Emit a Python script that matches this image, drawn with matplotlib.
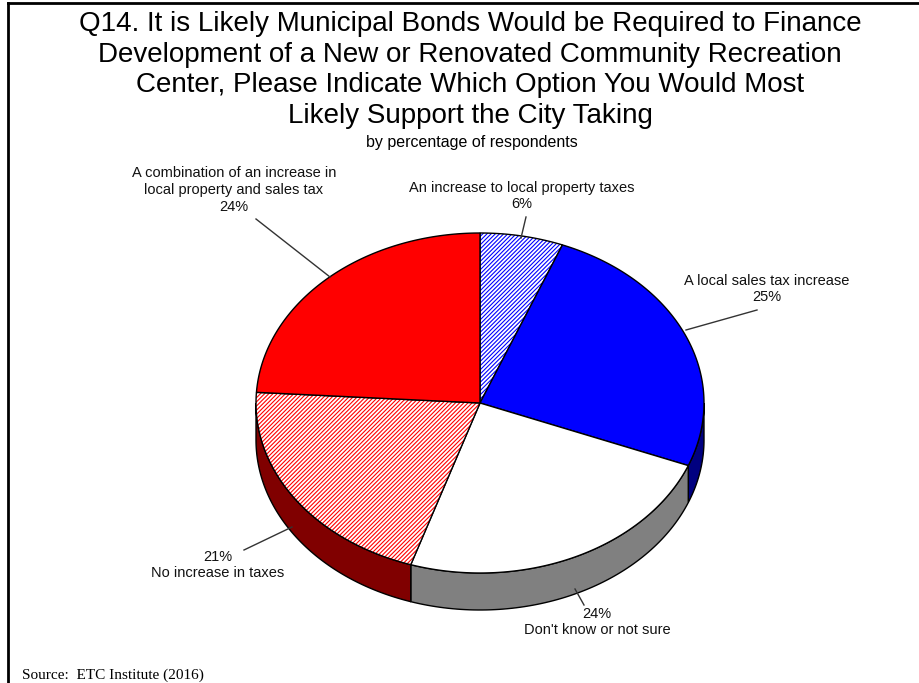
import numpy as np
import matplotlib.pyplot as plt
from matplotlib.patches import Polygon

plt.rcParams['font.family'] = ['Liberation Sans', 'DejaVu Sans']
plt.rcParams['hatch.linewidth'] = 0.8

# slices, clockwise from 12 o'clock
names = ["An increase to local property taxes",
         "A local sales tax increase",
         "Don't know or not sure",
         "No increase in taxes",
         "A combination of an increase in\nlocal property and sales tax"]
percents = [6, 25, 24, 21, 24]
top_colors = ["white", "#0000ff", "white", "white", "#ff0000"]
hatch_colors = ["#0000ff", None, None, "#ff0000", None]
side_colors = ["#000080", "#000080", "#808080", "#800000", "#800000"]

# label text anchor, percent above/below the name, leader line
label_pos = [(522, 196), (767, 289), (597, 622), (218, 565), (234, 190)]
pct_first = [False, False, True, True, False]
leaders = [((526, 217), (521, 238)), ((757, 310), (686, 330)),
           ((584, 605), (575, 589)), ((244, 550), (292, 527)),
           ((256, 219), (330, 277))]

cx, cy, rx, ry, depth = 480, 403, 224, 170, 37

fig = plt.figure(figsize=(9.19, 6.83), dpi=100)
ax = fig.add_axes([0, 0, 1, 1])
ax.set_xlim(0, 919)
ax.set_ylim(683, 0)
ax.axis('off')


def rim(t):
    return cx + rx * np.cos(t), cy - ry * np.sin(t)


bounds = np.concatenate([[0], np.cumsum(percents)]) / 100.0 * 360.0
theta = [(np.radians(90 - bounds[i]), np.radians(90 - bounds[i + 1]))
         for i in range(len(percents))]

# side walls on the front half
for (t0, t1), sc in zip(theta, side_colors):
    # t0 > t1 since we go clockwise; front half is sin(t) <= 0
    lo, hi = t1, t0
    segs = []
    for shift in (0, 2 * np.pi, -2 * np.pi):
        a, b = max(lo + shift, -np.pi), min(hi + shift, 0)
        if b > a:
            segs.append((a, b))
    for a, b in segs:
        t = np.linspace(b, a, 80)
        x, y = rim(t)
        pts = np.column_stack([np.r_[x, x[::-1]], np.r_[y, y[::-1] + depth]])
        ax.add_patch(Polygon(pts, closed=True, facecolor=sc,
                             edgecolor='black', lw=1))

# top faces
for (t0, t1), fc, hc in zip(theta, top_colors, hatch_colors):
    t = np.linspace(t0, t1, 120)
    x, y = rim(t)
    pts = np.column_stack([np.r_[cx, x], np.r_[cy, y]])
    if hc:
        ax.add_patch(Polygon(pts, closed=True, facecolor='white',
                             edgecolor=hc, hatch='////////', lw=0))
        ax.add_patch(Polygon(pts, closed=True, fill=False,
                             edgecolor='black', lw=1))
    else:
        ax.add_patch(Polygon(pts, closed=True, facecolor=fc,
                             edgecolor='black', lw=1))

# labels and leader lines
for name, p, (lx, ly), first, (a, b) in zip(names, percents, label_pos,
                                             pct_first, leaders):
    txt = f"{p}%\n{name}" if first else f"{name}\n{p}%"
    ax.text(lx, ly, txt, ha='center', va='center', fontsize=10.5,
            linespacing=1.25, color='#111111')
    ax.plot([a[0], b[0]], [a[1], b[1]], color='#333333', lw=1)

ax.text(470, 70, "Q14. It is Likely Municipal Bonds Would be Required to Finance\n"
        "Development of a New or Renovated Community Recreation\n"
        "Center, Please Indicate Which Option You Would Most\n"
        "Likely Support the City Taking",
        ha='center', va='center', fontsize=20, linespacing=1.23)
ax.text(472, 142, "by percentage of respondents", ha='center', va='center',
        fontsize=11.5)
ax.text(22, 675, "Source:  ETC Institute (2016)", ha='left', va='center',
        fontsize=11, family='Liberation Serif')

# frame
ax.plot([8, 919], [3, 3], color='black', lw=2)
ax.plot([8, 8], [3, 683], color='black', lw=2)

fig.savefig("out.png", dpi=100)
